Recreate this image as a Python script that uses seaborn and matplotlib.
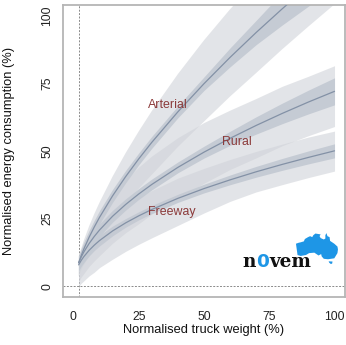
import numpy as np
import pandas as pd
import matplotlib
matplotlib.use("Agg")
import matplotlib.pyplot as plt
from matplotlib.patches import Polygon
import seaborn as sns

# Normalised truck weight (%) at which the fitted curves are tabulated
weight = [2, 3, 4, 6, 8, 10, 15, 20, 25, 30, 40, 50, 60, 70, 80, 90, 100]

# Fitted normalised energy consumption (%) per road type
arterial = [8.67, 11.38, 13.80, 18.10, 21.95, 25.49, 33.45, 40.56, 47.10, 53.22,
            64.53, 74.94, 84.69, 93.90, 102.68, 111.13, 119.25]
rural = [8.72, 10.86, 12.68, 15.79, 18.44, 20.80, 25.90, 30.25, 34.12, 37.65,
         43.98, 49.61, 54.74, 59.50, 63.96, 68.16, 72.12]
freeway = [7.91, 9.57, 10.97, 13.28, 15.21, 16.90, 20.46, 23.44, 26.04, 28.39,
           32.52, 36.13, 39.36, 42.35, 45.09, 47.67, 50.10]

# Prediction band limits (%)
arterial_lo = [3.7, 5.9, 7.8, 11.1, 14.5, 17.5, 24.5, 30.6, 36.1, 41.2,
               51.5, 60.9, 70.2, 78.9, 87.7, 96.1, 104.3]
arterial_hi = [11, 14, 17, 22.2, 26.8, 31, 40.6, 49.3, 57.3, 64.8,
               78.5, 91, 102.5, 113, 122.8, 132, 140.7]
rural_lo = [1.7, 3.4, 4.7, 7.3, 9.4, 11.3, 15.9, 19.8, 23.1, 26.7,
            32.5, 38.1, 43.2, 47.5, 52.0, 55.7, 59.1]
rural_hi = [11.2, 13.9, 16.2, 20.3, 23.9, 27.3, 33.9, 39.3, 44.1, 48.2,
            55.0, 60.6, 65.2, 69.5, 74.0, 77.7, 81.6]
freeway_lo = [-0.1, 1.1, 2.0, 3.8, 5.2, 6.9, 10.0, 12.9, 15.5, 17.9,
              22.5, 27.1, 31.4, 34.9, 37.6, 40.2, 42.6]
freeway_hi = [10.4, 12.6, 14.5, 17.3, 19.7, 21.9, 26.5, 29.9, 33.0, 35.4,
              40.0, 43.6, 46.9, 49.9, 52.6, 55.2, 57.4]

# Confidence band half-widths (%)
arterial_conf = [2.5, 2.5, 2.5, 2.5, 2.5, 2.5, 2.4, 2.3, 2.2, 2.2, 2.2, 2.5, 3.5, 4.5, 6, 7.5, 9]
rural_conf = [2.3, 2.3, 2.3, 2.3, 2.3, 2.3, 2.2, 2.1, 2, 2, 2, 2.2, 2.6, 3.2, 3.8, 4.4, 5]
freeway_conf = [2.2, 2.2, 2.2, 2.1, 2, 2, 1.8, 1.6, 1.5, 1.5, 1.5, 1.6, 1.8, 2, 2.2, 2.4, 2.6]

road_types = ["Arterial", "Rural", "Freeway"]
label_pos = {"Arterial": (36, 67), "Rural": (62.5, 53.3), "Freeway": (37.5, 27.4)}

x_ticks = [0, 25, 50, 75, 100]
y_ticks = [0, 25, 50, 75, 100]
min_weight = 2

sns.set_theme(style="white")
plt.rcParams["font.family"] = ["Liberation Sans", "DejaVu Sans"]

centres = {"Arterial": arterial, "Rural": rural, "Freeway": freeway}
pred_lo = {"Arterial": arterial_lo, "Rural": rural_lo, "Freeway": freeway_lo}
pred_hi = {"Arterial": arterial_hi, "Rural": rural_hi, "Freeway": freeway_hi}
conf = {"Arterial": arterial_conf, "Rural": rural_conf, "Freeway": freeway_conf}

df = pd.concat(
    [pd.DataFrame({"weight": weight, "energy": centres[r], "road": r}) for r in road_types],
    ignore_index=True,
)

fig = plt.figure(figsize=(3.46, 3.45), dpi=100)
ax = fig.add_axes([0.182, 0.139, 0.815, 0.846])

w = np.array(weight, dtype=float)
for r in road_types:
    ax.fill_between(w, pred_lo[r], pred_hi[r], color="#d0d3d9", alpha=0.6, lw=0, zorder=1)
for r in road_types:
    c = np.array(centres[r])
    h = np.array(conf[r])
    ax.fill_between(w, c - h, c + h, color="#c4cad3", alpha=0.95, lw=0, zorder=2)

sns.lineplot(
    data=df, x="weight", y="energy", hue="road",
    palette={r: "#8391a6" for r in road_types},
    linewidth=0.9, legend=False, ax=ax, zorder=3,
)

for r in road_types:
    ax.text(*label_pos[r], r, color="#8b3a3a", fontsize=8.9, ha="center", va="center", zorder=5)

ax.axvline(min_weight, color="#8a8a8a", lw=0.7, ls=(0, (2, 1.5)), zorder=0)
ax.axhline(0, color="#8a8a8a", lw=0.7, ls=(0, (2, 1.5)), zorder=0)

ax.set_xlim(-4, 104)
ax.set_ylim(-4, 104)
ax.set_xticks(x_ticks)
ax.set_yticks(y_ticks)
ax.set_xticklabels([str(t) for t in x_ticks])
ax.set_yticklabels([str(t) for t in y_ticks], rotation=90, va="center")
ax.tick_params(direction="in", length=3, width=0.8, color="#aaaaaa",
               labelsize=8.7, labelcolor="#222222")
ax.tick_params(axis="x", pad=10)
ax.tick_params(axis="y", pad=7)

for s in ax.spines.values():
    s.set_color("#b5b5b5")
    s.set_linewidth(1.3)

ax.set_xlabel("Normalised truck weight (%)", fontsize=9.3, color="#111111")
ax.set_ylabel("Normalised energy consumption (%)", fontsize=9.3, color="#111111")
ax.xaxis.set_label_coords(0.5, -0.093)
ax.yaxis.set_label_coords(-0.17, 0.5)

# n0vem logo: wordmark with a blue map of Australia above it
renderer = fig.canvas.get_renderer()
to_axes = ax.transAxes.inverted()
x_cursor = 0.635
logo_parts = [("n", "#111111", "DejaVu Serif"), ("0", "#1e96e6", "DejaVu Sans"),
              ("vem", "#111111", "DejaVu Serif")]
for part, col, fam in logo_parts:
    t = ax.text(x_cursor, 0.103, part, transform=ax.transAxes, fontsize=13.3,
                fontweight="bold", family=fam, color=col, ha="left", va="baseline", zorder=6)
    bb = t.get_window_extent(renderer)
    x_cursor = to_axes.transform((bb.x1 + 0.5, bb.y0))[0]

mainland = np.array([
    (113.5, -22), (114, -26), (115, -34), (118, -35), (123, -34), (126, -32),
    (131, -31.5), (135, -34.5), (137.5, -33), (138, -35.5), (140, -38), (144, -38.5),
    (147, -38), (150, -37.5), (153, -32), (153.5, -28), (153, -25), (150, -22),
    (146, -19), (145.5, -15), (143.5, -14), (142.5, -10.7), (141.5, -13), (141.5, -16.5),
    (140, -17.5), (137, -16), (136, -14), (137, -12), (136.5, -12), (132, -11.2),
    (130, -13), (129, -15), (127, -14), (125, -15), (122, -17), (121, -19.5),
    (118, -20.5), (116, -21),
])
tasmania = np.array([(144.6, -40.7), (148.3, -40.9), (148, -43), (146.8, -43.6), (145.2, -42.2)])

ax_x0, ax_y1 = 63, 297
ax_w, ax_h = 282, 292


def to_logo(lonlat):
    px = 296 + (lonlat[:, 0] - 113.5) / (153.5 - 113.5) * (338 - 296)
    py = 264 + (lonlat[:, 1] + 43.6) / (43.6 - 10.7) * (233 - 264)
    return np.column_stack([(px - ax_x0) / ax_w, (ax_y1 - py) / ax_h])


for shape in (mainland, tasmania):
    ax.add_patch(Polygon(to_logo(shape), closed=True, transform=ax.transAxes,
                         color="#1e96e6", lw=0, zorder=6))

fig.savefig("out.png", dpi=100)
